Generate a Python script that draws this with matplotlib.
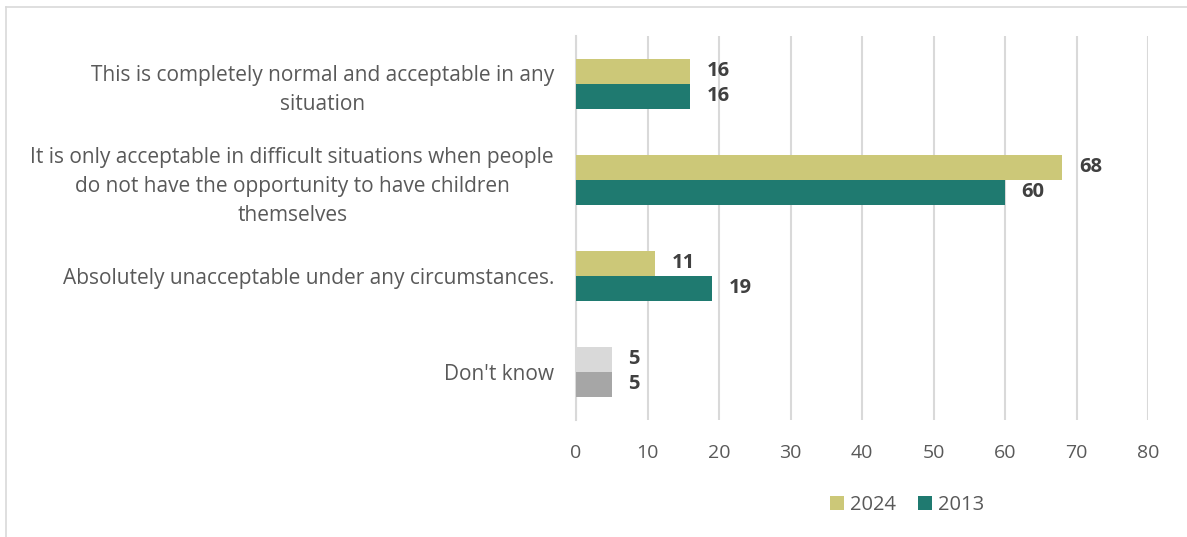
import matplotlib.pyplot as plt
import matplotlib.transforms as mtransforms
from matplotlib.lines import Line2D
import numpy as np

plt.rcParams['font.family'] = ['Open Sans', 'DejaVu Sans']

## 데이터
categories = [
    'This is completely normal and acceptable in any\nsituation',
    'It is only acceptable in difficult situations when people\ndo not have the opportunity to have children\nthemselves',
    'Absolutely unacceptable under any circumstances.',
    "Don't know",
]
values_2024 = [16, 68, 11, 5]
values_2013 = [16, 60, 19, 5]
series_names = ['2024', '2013']

col_2024 = ['#CCC878', '#CCC878', '#CCC878', '#D9D9D9']
col_2013 = ['#1F7A70', '#1F7A70', '#1F7A70', '#A6A6A6']

fig = plt.figure(figsize=(11.87, 5.37), dpi=100)
ax = fig.add_axes([0.4853, 0.218, 0.4819, 0.715])

y = np.arange(len(categories))
h = 0.26
b1 = ax.barh(y - h / 2, values_2024, height=h, color=col_2024, label=series_names[0], zorder=3)
b2 = ax.barh(y + h / 2, values_2013, height=h, color=col_2013, label=series_names[1], zorder=3)

for bars, vals in [(b1, values_2024), (b2, values_2013)]:
    for bar, v in zip(bars, vals):
        ax.annotate(str(v), (bar.get_width(), bar.get_y() + bar.get_height() / 2),
                    xytext=(12, 0), textcoords='offset points', va='center', ha='left',
                    fontsize=14.5, fontweight='bold', color='#404040')

ax.set_xlim(0, 80)
ax.set_ylim(len(categories) - 0.5, -0.5)
ax.set_xticks(np.arange(0, 81, 10))
ax.set_yticks(y)
ax.set_yticklabels(categories, ha='center', multialignment='center', linespacing=1.5)
ax.tick_params(axis='y', length=0, pad=0, labelsize=15, labelcolor='#595959')
ax.tick_params(axis='x', length=0, pad=17, labelsize=14, labelcolor='#595959')

## 라벨을 가운데 정렬 후 축 왼쪽으로 이동
fig.canvas.draw()
renderer = fig.canvas.get_renderer()
for lab in ax.get_yticklabels():
    w = lab.get_window_extent(renderer).width
    lab.set_transform(ax.get_yaxis_transform() +
                      mtransforms.ScaledTranslation(-(w / 2 + 22) / 100, 0, fig.dpi_scale_trans))

for s in ['top', 'right', 'bottom']:
    ax.spines[s].set_visible(False)
ax.spines['left'].set_color('#D9D9D9')
ax.spines['left'].set_linewidth(1.5)
ax.xaxis.grid(True, color='#D9D9D9', linewidth=1.5, zorder=0)
ax.set_axisbelow(True)

leg = fig.legend(handles=[b1[0], b2[0]], labels=series_names, loc='center',
                 bbox_to_anchor=(0.764, 0.06), ncol=2, frameon=False, fontsize=14.5,
                 handlelength=0.7, handleheight=0.7, handletextpad=0.3, columnspacing=1.1)
for t in leg.get_texts():
    t.set_color('#595959')

## 외곽선
fig.add_artist(Line2D([6 / 1187, 6 / 1187], [0, 1 - 7 / 537], color='#D9D9D9', lw=1.2, transform=fig.transFigure))
fig.add_artist(Line2D([6 / 1187, 1], [1 - 7 / 537, 1 - 7 / 537], color='#D9D9D9', lw=1.2, transform=fig.transFigure))

plt.savefig('out.png', dpi=100)
